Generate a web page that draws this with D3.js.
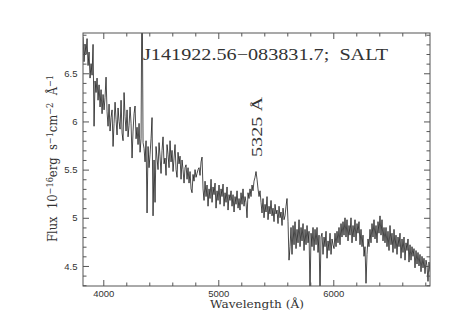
<!DOCTYPE html>
<html><head><meta charset="utf-8">
<script src="https://cdn.jsdelivr.net/npm/d3@7"></script>
<style>body{margin:0;background:#fff}svg{display:block}</style>
</head><body><svg id="c" width="472" height="334"></svg>
<script>
// ---- data ----
const lambdaStart = 3824, lambdaEnd = 6841;   // wavelength grid of the spectrum (Å)
const flux = [
 6.88,6.62,6.80,6.70,6.86,6.58,
 6.72,6.45,6.60,6.48,6.80,5.95,6.42,
 6.30,6.45,6.22,6.38,6.15,6.33,6.08,6.28,6.12,6.25,
 6.46,6.10,5.95,6.18,5.90,6.04,6.12,5.74,5.98,6.20,6.02,5.86,6.14,6.00,5.92,6.22,5.88,5.80,6.30,6.05,5.90,6.12,5.84,5.96,6.15,5.98,5.62,5.90,6.08,6.16,5.82,5.94,5.76,5.98,5.68,
 5.82,7.60,5.78,
 5.72,5.58,5.80,5.05,5.74,5.52,5.66,5.82,6.04,5.02,5.60,5.16,5.74,5.62,5.50,5.78,5.64,5.46,5.70,5.84,5.56,5.62,5.44,5.76,5.66,5.52,5.80,5.58,5.70,5.48,5.62,5.76,5.50,5.42,5.68,5.56,5.64,5.40,5.60,5.50,5.36,5.52,
 5.55,5.40,5.52,5.36,5.48,5.30,5.26,5.45,5.38,5.50,5.42,5.46,5.50,5.52,5.44,5.58,5.63,
 5.30,5.18,5.38,5.22,5.34,5.12,5.30,5.20,5.40,5.16,5.32,5.24,5.36,5.10,5.28,5.18,5.34,5.14,5.30,5.22,5.35,5.12,5.26,5.16,5.32,5.08,5.24,5.18,
 5.28,5.12,5.24,5.06,5.22,5.14,5.28,5.10,5.20,5.08,5.26,5.14,5.30,5.12,5.22,5.16,5.00,5.26,5.20,
 5.30,5.22,5.34,5.28,5.38,5.42,5.48,5.40,5.30,5.22,5.28,
 5.16,5.05,5.20,5.00,5.14,5.06,5.22,4.98,5.12,5.04,5.18,5.02,5.10,4.96,5.14,5.04,5.08,4.94,5.12,5.00,5.06,4.92,5.10,4.98,5.02,5.12,5.20,4.96,4.56,
 4.70,4.90,4.62,4.92,4.72,4.96,4.68,4.88,4.74,4.98,4.70,4.90,4.76,4.94,4.66,4.88,4.72,4.92,4.74,4.86,4.20,4.84,4.70,4.90,4.66,4.88,4.72,4.90,4.64,4.82,4.20,4.80,
 4.84,4.62,4.80,4.70,4.86,4.58,4.76,4.66,4.84,4.62,4.78,4.72,4.68,4.84,4.70,4.86,4.74,4.90,4.72,4.94,4.80,4.96,4.82,
 5.00,4.80,4.98,4.76,4.92,4.82,5.00,4.74,4.92,4.80,4.98,4.76,4.94,4.84,4.96,4.72,4.88,4.70,
 4.82,4.60,4.70,4.32,4.62,4.78,4.70,
 4.88,4.74,4.94,4.80,4.98,4.78,4.92,4.74,4.96,4.84,5.02,4.82,4.98,4.76,4.90,
 4.74,4.90,4.70,4.86,4.66,4.92,4.72,4.84,4.64,4.88,4.68,4.82,4.62,4.80,4.70,4.84,4.58,4.78,4.64,4.80,4.56,4.74,4.66,4.78,4.54,4.72,4.56,4.70,4.60,4.68,4.48,4.66,4.52,4.64,4.50,4.62,4.44,4.60,4.48,4.58,4.42,4.56,4.50,4.34,4.54,4.44
];
const xMajorTicks = [4000, 5000, 6000];
const xTickLabels = ["4000", "5000", "6000"];
const yMajorTicks = [4.5, 5, 5.5, 6, 6.5];
const yTickLabels = ["4.5", "5", "5.5", "6", "6.5"];
const xMinorStep = 200, yMinorStep = 0.1;
const titleText = "J141922.56\u2212083831.7;  SALT";
const lineWavelength = 5325;
const lineLabel = "5325 \u00C5";
const xTitle = "Wavelength (\u00C5)";

// ---- layout ----
const L = 83, R = 430, T = 33, B = 286;
const x = d3.scaleLinear().domain([3823.5, 6841]).range([L, R]);
const y = d3.scaleLinear().domain([4.292, 6.918]).range([B, T]);
const svg = d3.select("#c");
const ink = "#333";

const wl = d3.range(flux.length).map(i => lambdaStart + i * (lambdaEnd - lambdaStart) / (flux.length - 1));
const pts = wl.map((w, i) => [w, flux[i]]);

svg.append("clipPath").attr("id", "clip").append("rect")
  .attr("x", L).attr("y", T).attr("width", R - L).attr("height", B - T);

svg.append("path").datum(pts)
  .attr("clip-path", "url(#clip)")
  .attr("fill", "none").attr("stroke", "#000").attr("stroke-width", 0.7)
  .attr("stroke-linejoin", "miter")
  .attr("d", d3.line().x(d => x(d[0])).y(d => y(d[1])));

// minor tick values
const xMinor = d3.range(4000, 6841, xMinorStep).filter(v => !xMajorTicks.includes(v));
const yMinor = d3.range(43, 70).map(v => v / 10).filter(v => !yMajorTicks.includes(v));

function styleAxis(g) {
  g.select(".domain").remove();
  g.selectAll("line").attr("stroke", "#555").attr("stroke-width", 1);
  g.selectAll("text").attr("fill", ink).style("font-family", "'Liberation Sans', Arial, sans-serif").style("font-size", "9.5px");
}
const fx = (v) => xTickLabels[xMajorTicks.indexOf(v)];
const fy = (v) => yTickLabels[yMajorTicks.indexOf(v)];

svg.append("g").attr("transform", `translate(0,${B})`)
  .call(d3.axisBottom(x).tickValues(xMajorTicks).tickFormat(fx).tickSize(-6).tickPadding(4.5)).call(styleAxis);
svg.append("g").attr("transform", `translate(0,${B})`)
  .call(d3.axisBottom(x).tickValues(xMinor).tickFormat("").tickSize(-3.5)).call(styleAxis);
svg.append("g").attr("transform", `translate(0,${T})`)
  .call(d3.axisTop(x).tickValues(xMajorTicks).tickFormat("").tickSize(-6)).call(styleAxis);
svg.append("g").attr("transform", `translate(0,${T})`)
  .call(d3.axisTop(x).tickValues(xMinor).tickFormat("").tickSize(-3.5)).call(styleAxis);
svg.append("g").attr("transform", `translate(${L},0)`)
  .call(d3.axisLeft(y).tickValues(yMajorTicks).tickFormat(fy).tickSize(-6).tickPadding(5.5)).call(styleAxis);
svg.append("g").attr("transform", `translate(${L},0)`)
  .call(d3.axisLeft(y).tickValues(yMinor).tickFormat("").tickSize(-3.5)).call(styleAxis);
svg.append("g").attr("transform", `translate(${R},0)`)
  .call(d3.axisRight(y).tickValues(yMajorTicks).tickFormat("").tickSize(-6)).call(styleAxis);
svg.append("g").attr("transform", `translate(${R},0)`)
  .call(d3.axisRight(y).tickValues(yMinor).tickFormat("").tickSize(-3.5)).call(styleAxis);

svg.append("rect").attr("x", L).attr("y", T).attr("width", R - L).attr("height", B - T)
  .attr("fill", "none").attr("stroke", "#555").attr("stroke-width", 1);

// title
svg.append("text").attr("x", 143).attr("y", 60)
  .attr("textLength", 245).attr("lengthAdjust", "spacingAndGlyphs")
  .style("white-space", "pre")
  .style("font-family", "'Liberation Serif', 'Times New Roman', serif").style("font-size", "17px")
  .attr("fill", ink).text(titleText);

// line annotation
svg.append("text")
  .attr("transform", `translate(${x(lineWavelength) + 6.5},157) rotate(-90)`)
  .attr("textLength", 60).attr("lengthAdjust", "spacingAndGlyphs")
  .style("font-family", "'Liberation Serif', 'Times New Roman', serif").style("font-size", "15px")
  .attr("fill", ink).text(lineLabel);

// x title
svg.append("text").attr("x", 210).attr("y", 308)
  .attr("textLength", 94).attr("lengthAdjust", "spacingAndGlyphs")
  .style("font-family", "'DejaVu Serif', serif").style("font-size", "11px")
  .attr("fill", ink).text(xTitle);

// y title
const yt = svg.append("text")
  .attr("transform", "translate(57,242) rotate(-90)")
  .attr("textLength", 167).attr("lengthAdjust", "spacingAndGlyphs")
  .style("white-space", "pre")
  .style("font-family", "'DejaVu Serif', serif").style("font-size", "12px")
  .attr("fill", ink);
const parts = [["Flux  10", 0], ["\u221216", 1], ["erg  s", 0], ["\u22121", 1], ["cm", 0], ["\u22122", 1], ["  \u00C5", 0], ["\u22121", 1]];
let sup = false;
parts.forEach(([t, s]) => {
  const ts = yt.append("tspan").text(t);
  if (s && !sup) { ts.attr("dy", -4.5).style("font-size", "8.5px"); sup = true; }
  else if (!s && sup) { ts.attr("dy", 4.5); sup = false; }
  else if (s) ts.style("font-size", "8.5px");
});
</script></body></html>
